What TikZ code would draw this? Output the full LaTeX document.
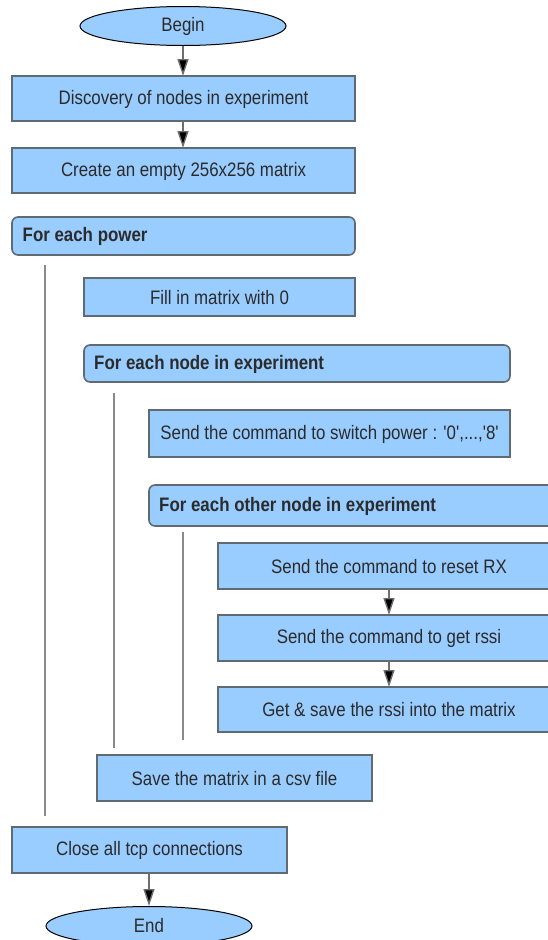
\documentclass[tikz,border=0pt]{standalone}
\usepackage{fontspec}
\setmainfont{Liberation Sans}
\usetikzlibrary{arrows.meta,shapes.geometric}
\definecolor{boxfill}{HTML}{99CCFF}
\definecolor{boxline}{HTML}{5F6A73}
\definecolor{txt}{HTML}{2B2B2B}
\definecolor{vline}{HTML}{8A8A8A}
\newcommand{\sqz}[1]{\scalebox{0.866}[1]{#1}}
\newcommand{\sq}{\textquotesingle}
\begin{document}
\begin{tikzpicture}[x=1pt,y=-1pt,
  every node/.style={font=\fontsize{19.5}{22}\selectfont, text=txt, inner sep=0pt},
  bold/.style={font=\fontsize{19.5}{22}\selectfont\bfseries, anchor=west},
  proc/.style={draw=boxline, fill=boxfill, line width=1.6pt},
  loopbox/.style={draw=boxline, fill=boxfill, line width=1.6pt, rounded corners=6pt},
  term/.style={draw=black, fill=boxfill, line width=1pt, ellipse},
  flow/.style={draw=vline!80!black, line width=1.4pt, -{Triangle[width=11pt,length=17pt,fill=black]}},
  guide/.style={draw=vline, line width=1.8pt}]
\useasboundingbox (0,0) rectangle (548,940);
\begin{scope}
\clip (0,0) rectangle (548,940);
% terminators
\node[term, minimum width=206pt, minimum height=39pt] (begin) at (183,26) {\sqz{Begin}};
\node[term, minimum width=206pt, minimum height=39pt] (end) at (149,926) {\sqz{End}};
% process boxes
\draw[proc] (12,76) rectangle (355,121);
\node (disc) at (183.5,99) {\sqz{Discovery of nodes in experiment}};
\coordinate (discT) at (183,76); \coordinate (discB) at (183,121);
\draw[proc] (12,148) rectangle (355,193);
\node (create) at (183.5,171) {\sqz{Create an empty 256x256 matrix}};
\coordinate (createT) at (183,148);
\draw[loopbox] (12,217) rectangle (355,255);
\node[bold] (power) at (22.5,236.5) {\sqz{For each power}};
\draw[proc] (84,278) rectangle (355,316);
\node (fill) at (219.5,297.5) {\sqz{Fill in matrix with 0}};
\draw[loopbox] (84,345) rectangle (510,382);
\node[bold] (eachnode) at (94,364) {\sqz{For each node in experiment}};
\draw[proc] (149,410) rectangle (510,457);
\node (switch) at (329.5,434) {\sqz{Send the command to switch power : \sq0\sq,...,\sq8\sq}};
\draw[loopbox] (149,485) rectangle (570,526);
\node[bold] (other) at (159,506) {\sqz{For each other node in experiment}};
\draw[proc] (218,543) rectangle (560,589);
\node (reset) at (389,566.5) {\sqz{Send the command to reset RX}};
\draw[proc] (218,615) rectangle (560,661);
\node (rssi) at (389,638.5) {\sqz{Send the command to get rssi}};
\draw[proc] (218,687) rectangle (560,732);
\node (save) at (389,710) {\sqz{Get \& save the rssi into the matrix}};
\draw[proc] (97,755) rectangle (372,801);
\node (csv) at (234.5,778.5) {\sqz{Save the matrix in a csv file}};
\draw[proc] (12,827) rectangle (287,873);
\node (close) at (149.5,850.5) {\sqz{Close all tcp connections}};
% coordinates for connectors
\coordinate (resetB) at (389,589); \coordinate (rssiT) at (389,615);
\coordinate (rssiB) at (389,661); \coordinate (saveT) at (389,687);
\coordinate (closeB) at (149,873);
% guide lines
\coordinate (g1a) at (45,265); \coordinate (g1b) at (45,816);
\coordinate (g2a) at (114,393); \coordinate (g2b) at (114,748);
\coordinate (g3a) at (183,532); \coordinate (g3b) at (183,740);
\draw[guide] (g1a) -- (g1b);
\draw[guide] (g2a) -- (g2b);
\draw[guide] (g3a) -- (g3b);
% flow arrows
\draw[flow] (begin.south) -- (discT);
\draw[flow] (discB) -- (createT);
\draw[flow] (resetB) -- (rssiT);
\draw[flow] (rssiB) -- (saveT);
\draw[flow] (closeB) -- (end.north);
\end{scope}
\end{tikzpicture}
\end{document}
